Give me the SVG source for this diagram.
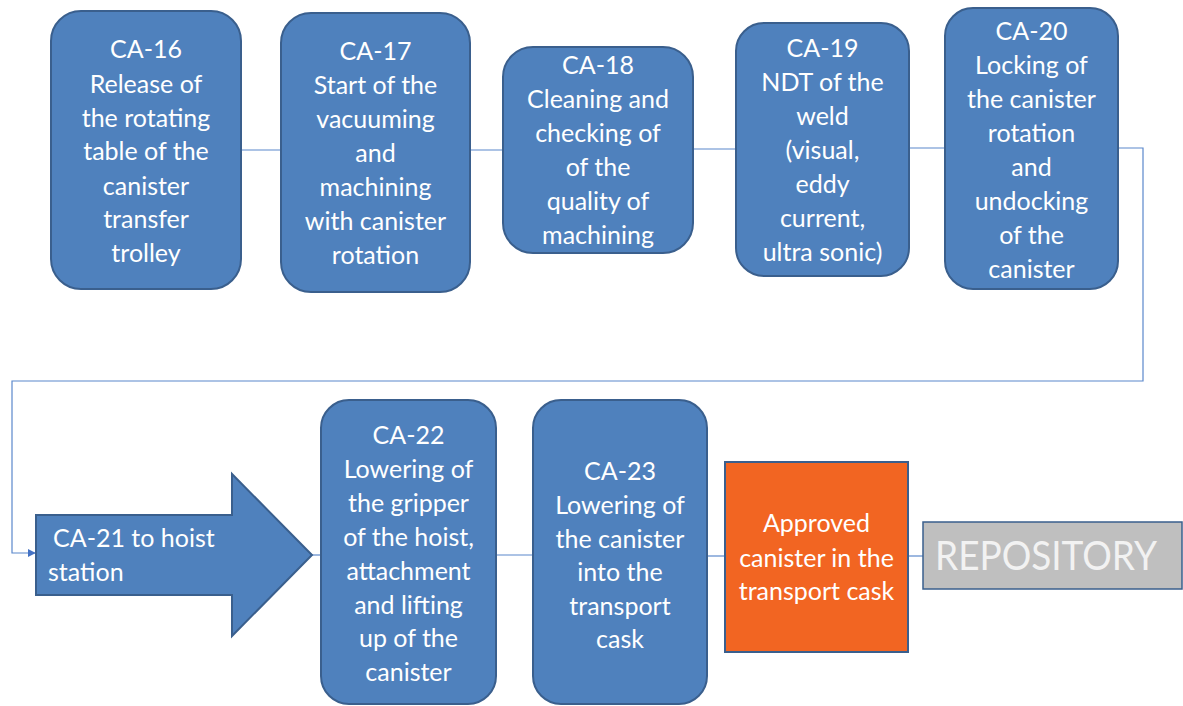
<svg xmlns="http://www.w3.org/2000/svg" width="1183" height="706" viewBox="0 0 1183 706">
  <style>
    .step { fill: #4F81BD; stroke: #3A5F8D; stroke-width: 2; }
    .final { fill: #F26522; stroke: #3A5F8D; stroke-width: 2; }
    .repo { fill: #BFBFBF; stroke: #3A5F8D; stroke-width: 1.5; }
    .conn { fill: none; stroke: #5B88CC; stroke-width: 1.2; }
    text { font-family: "Lato", "Liberation Sans", sans-serif; font-size: 25px; fill: #FFFFFF; text-anchor: middle; }
    .left { text-anchor: start; }
    .big { font-size: 40px; fill: #F2F2F2; text-anchor: start; }
  </style>
  <defs>
    <marker id="arrow" viewBox="0 0 10 10" refX="9" refY="5" markerWidth="8" markerHeight="8" markerUnits="userSpaceOnUse" orient="auto">
      <path d="M0,0 L10,5 L0,10 z" fill="#4472C4"/>
    </marker>
  </defs>

  <!-- connectors -->
  <g id="connectors">
    <line class="conn" x1="241" y1="150" x2="281" y2="150"/>
    <line class="conn" x1="470" y1="150" x2="503" y2="150"/>
    <line class="conn" x1="693" y1="149" x2="736" y2="149"/>
    <line class="conn" x1="909" y1="148" x2="945" y2="148"/>
    <polyline class="conn" points="1118,148 1143,148 1143,381 12,381 12,553 35,553" marker-end="url(#arrow)"/>
    <line class="conn" x1="312" y1="555" x2="321" y2="555"/>
    <line class="conn" x1="496" y1="555" x2="533" y2="555"/>
    <line class="conn" x1="707" y1="556" x2="725" y2="556"/>
    <line class="conn" x1="908" y1="556" x2="923" y2="556"/>
  </g>

  <g id="ca16">
    <rect class="step" x="51" y="11" width="190" height="278" rx="30"/>
    <text x="146" y="58">CA-16</text>
    <text x="146" y="93">Release of</text>
    <text x="146" y="127">the rotating</text>
    <text x="146" y="160">table of the</text>
    <text x="146" y="195">canister</text>
    <text x="146" y="228">transfer</text>
    <text x="146" y="262">trolley</text>
  </g>

  <g id="ca17">
    <rect class="step" x="281" y="13" width="189" height="279" rx="30"/>
    <text x="375.5" y="60">CA-17</text>
    <text x="375.5" y="94">Start of the</text>
    <text x="375.5" y="128">vacuuming</text>
    <text x="375.5" y="162">and</text>
    <text x="375.5" y="196">machining</text>
    <text x="375.5" y="230">with canister</text>
    <text x="375.5" y="264">rotation</text>
  </g>

  <g id="ca18">
    <rect class="step" x="503" y="47" width="190" height="206" rx="30"/>
    <text x="598" y="74">CA-18</text>
    <text x="598" y="108">Cleaning and</text>
    <text x="598" y="142">checking of</text>
    <text x="598" y="176">of the</text>
    <text x="598" y="210">quality of</text>
    <text x="598" y="244">machining</text>
  </g>

  <g id="ca19">
    <rect class="step" x="736" y="23" width="173" height="253" rx="28"/>
    <text x="822.5" y="57">CA-19</text>
    <text x="822.5" y="91">NDT of the</text>
    <text x="822.5" y="125">weld</text>
    <text x="822.5" y="159">(visual,</text>
    <text x="822.5" y="193">eddy</text>
    <text x="822.5" y="227">current,</text>
    <text x="822.5" y="261">ultra sonic)</text>
  </g>

  <g id="ca20">
    <rect class="step" x="945" y="8" width="173" height="281" rx="28"/>
    <text x="1031.5" y="40">CA-20</text>
    <text x="1031.5" y="74">Locking of</text>
    <text x="1031.5" y="108">the canister</text>
    <text x="1031.5" y="142">rotation</text>
    <text x="1031.5" y="176">and</text>
    <text x="1031.5" y="210">undocking</text>
    <text x="1031.5" y="244">of the</text>
    <text x="1031.5" y="278">canister</text>
  </g>

  <g id="ca21">
    <polygon class="step" points="36,515 232,515 232,474 312,555 232,636 232,595 36,595"/>
    <text class="left" x="53" y="547">CA-21 to hoist</text>
    <text class="left" x="48" y="581">station</text>
  </g>

  <g id="ca22">
    <rect class="step" x="321" y="400" width="175" height="304" rx="28"/>
    <text x="408.5" y="444">CA-22</text>
    <text x="408.5" y="478">Lowering of</text>
    <text x="408.5" y="512">the gripper</text>
    <text x="408.5" y="546">of the hoist,</text>
    <text x="408.5" y="580">attachment</text>
    <text x="408.5" y="614">and lifting</text>
    <text x="408.5" y="647">up of the</text>
    <text x="408.5" y="681">canister</text>
  </g>

  <g id="ca23">
    <rect class="step" x="533" y="400" width="174" height="304" rx="28"/>
    <text x="620" y="480">CA-23</text>
    <text x="620" y="514">Lowering of</text>
    <text x="620" y="548">the canister</text>
    <text x="620" y="581">into the</text>
    <text x="620" y="615">transport</text>
    <text x="620" y="648">cask</text>
  </g>

  <g id="approved">
    <rect class="final" x="725" y="462" width="183" height="190"/>
    <text x="816.5" y="532">Approved</text>
    <text x="816.5" y="567">canister in the</text>
    <text x="816.5" y="600">transport cask</text>
  </g>

  <g id="repository">
    <rect class="repo" x="923" y="522" width="259" height="67"/>
    <text class="big" x="935" y="570" textLength="222" lengthAdjust="spacingAndGlyphs">REPOSITORY</text>
  </g>
</svg>
